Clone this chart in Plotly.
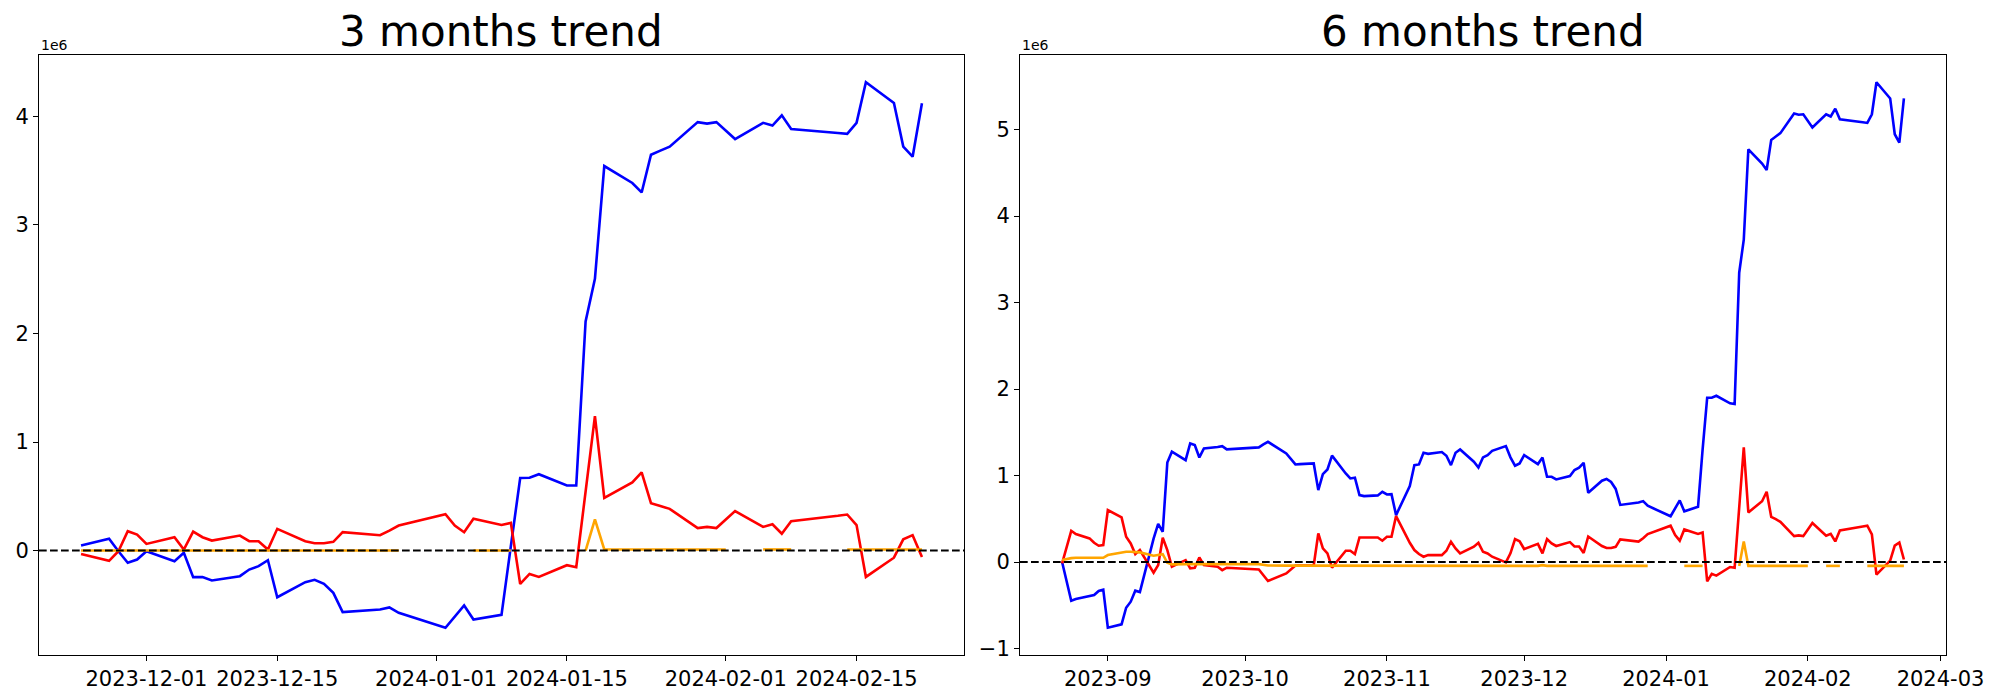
import pandas as pd
import plotly.graph_objects as go

# ---------------- data (values in units of 1e6) ----------------
days_3m = {
    "2023-11": [24, 27, 28, 29, 30],
    "2023-12": [1, 4, 5, 6, 7, 8, 11, 12, 13, 14, 15, 18, 19, 20, 21, 22, 26, 27, 28],
    "2024-01": [2, 3, 4, 5, 8, 9, 10, 11, 12, 15, 16, 17, 18, 19, 22, 23, 24, 25, 26, 29, 30, 31],
    "2024-02": [1, 2, 5, 6, 7, 8, 13, 14, 15, 16, 19, 20, 21, 22],
}
blue_3m = [
    0.046, 0.108, -0.006, -0.113, -0.083,
    -0.006, -0.098, -0.020, -0.245, -0.245, -0.276, -0.236, -0.175, -0.144, -0.089, -0.430, -0.291, -0.270, -0.307, -0.390, -0.567, -0.543, -0.524, -0.574,
    -0.711, -0.610, -0.506, -0.635, -0.592, 0.040, 0.668, 0.671, 0.703, 0.599, 0.599, 2.111, 2.503, 3.542, 3.386, 3.299, 3.646, 3.684, 3.721, 3.947, 3.933, 3.947,
    3.870, 3.791, 3.940, 3.915, 4.009, 3.884, 3.846, 3.839, 3.940, 4.314, 4.123, 3.721, 3.628, 4.120,
]
red_3m = [
    -0.031, -0.095, -0.006, 0.178, 0.147,
    0.061, 0.123, 0.009, 0.175, 0.123, 0.092, 0.138, 0.086, 0.086, 0.009, 0.200, 0.086, 0.067, 0.067, 0.080, 0.169, 0.141, 0.184, 0.230,
    0.334, 0.230, 0.169, 0.294, 0.236, 0.255, -0.308, -0.215, -0.243, -0.135, -0.153, 0.540, 1.239, 0.484, 0.627, 0.720, 0.436, 0.410, 0.384, 0.207, 0.218, 0.207,
    0.285, 0.363, 0.218, 0.242, 0.155, 0.270, 0.320, 0.332, 0.235, -0.243, -0.066, 0.103, 0.142, -0.059,
]
orange_3m = [
    0.0, 0.0, 0.0, 0.0, 0.0,
    0.0, 0.0, 0.0, 0.0, 0.0, 0.0, 0.0, 0.0, 0.0, 0.0, 0.0, 0.0, 0.0, 0.0, 0.0, 0.0, 0.0, 0.0, 0.0,
    None, None, None, 0.0, 0.0, 0.0, None, None, None, None, None, 0.0, 0.287, 0.01, 0.01, 0.01, 0.01, 0.01, 0.01, 0.01, 0.01, 0.01,
    0.01, None, 0.01, 0.01, 0.01, 0.01, None, 0.01, 0.01, 0.01, 0.01, 0.01, 0.01, 0.01,
]

days_6m = {
    "2023-08": [22, 23, 24, 25, 28, 29, 30, 31],
    "2023-09": [1, 4, 5, 6, 7, 8, 11, 12, 13, 14, 15, 18, 19, 20, 21, 22, 25, 26, 27],
    "2023-10": [4, 5, 6, 10, 11, 12, 13, 16, 17, 18, 19, 20, 23, 24, 25, 26, 27, 30, 31],
    "2023-11": [1, 2, 3, 6, 7, 8, 9, 10, 13, 14, 15, 16, 17, 20, 21, 22, 23, 24, 27, 28, 29, 30],
    "2023-12": [1, 4, 5, 6, 7, 8, 11, 12, 13, 14, 15, 18, 19, 20, 21, 22, 26, 27, 28],
    "2024-01": [2, 3, 4, 5, 8, 9, 10, 11, 12, 15, 16, 17, 18, 19, 22, 23, 24, 25, 26, 29, 30, 31],
    "2024-02": [1, 2, 5, 6, 7, 8, 13, 14, 15, 16, 19, 20, 21, 22],
}
blue_6m = [
    0.000, -0.240, -0.448, -0.429, -0.390, -0.382, -0.335, -0.320,
    -0.760, -0.721, -0.529, -0.459, -0.332, -0.348, 0.270, 0.440, 0.350, 1.150, 1.275, 1.178, 1.371, 1.352, 1.209, 1.313, 1.330, 1.340, 1.302,
    1.325, 1.359, 1.390, 1.255, 1.186, 1.128, 1.132, 1.140, 0.831, 1.016, 1.070, 1.230, 1.024, 0.966, 0.974, 0.774, 0.762, 0.770, 0.812,
    0.781, 0.785, 0.542, 0.878, 1.120, 1.128, 1.263, 1.251, 1.271, 1.228, 1.120, 1.263, 1.301, 1.159, 1.093, 1.209, 1.236, 1.286, 1.340, 1.210, 1.113, 1.140,
    1.236, 1.132, 1.209, 0.985, 0.985, 0.955, 0.993, 1.063, 1.090, 1.147, 0.800, 0.940, 0.960, 0.925, 0.845, 0.660, 0.687, 0.704, 0.650,
    0.529, 0.620, 0.712, 0.586, 0.638, 1.300, 1.900, 1.900, 1.922, 1.835, 1.826, 3.345, 3.728, 4.772, 4.607, 4.533, 4.881, 4.920, 4.959, 5.185, 5.172, 5.177,
    5.100, 5.024, 5.177, 5.151, 5.242, 5.120, 5.085, 5.077, 5.177, 5.547, 5.360, 4.946, 4.850, 5.360,
]
red_6m = [
    -0.017, 0.170, 0.361, 0.323, 0.273, 0.222, 0.188, 0.196,
    0.600, 0.515, 0.292, 0.215, 0.091, 0.138, -0.124, -0.036, 0.280, 0.138, -0.055, 0.022, -0.074, -0.066, 0.053, -0.036, -0.055, -0.094, -0.066,
    -0.086, -0.151, -0.220, -0.132, -0.086, -0.040, -0.040, -0.040, 0.330, 0.157, 0.099, -0.065, 0.130, 0.130, 0.092, 0.284, 0.284, 0.284, 0.246,
    0.292, 0.292, 0.531, 0.222, 0.138, 0.092, 0.061, 0.080, 0.080, 0.130, 0.234, 0.157, 0.099, 0.176, 0.222, 0.118, 0.099, 0.061, -0.005, 0.100, 0.265, 0.240,
    0.150, 0.210, 0.100, 0.265, 0.215, 0.185, 0.230, 0.180, 0.180, 0.105, 0.295, 0.185, 0.162, 0.162, 0.175, 0.262, 0.236, 0.275, 0.322,
    0.420, 0.312, 0.247, 0.377, 0.325, 0.342, -0.224, -0.137, -0.158, -0.058, -0.067, 0.650, 1.326, 0.573, 0.703, 0.812, 0.521, 0.495, 0.464, 0.299, 0.308, 0.299,
    0.377, 0.451, 0.304, 0.325, 0.238, 0.364, 0.410, 0.420, 0.320, -0.145, 0.016, 0.190, 0.225, 0.029,
]
orange_6m = [
    0.022, 0.035, 0.045, 0.049, 0.049, 0.049, 0.049, 0.049,
    0.080, 0.111, 0.118, 0.118, 0.118, 0.111, 0.072, 0.080, 0.091, -0.009, -0.028, -0.024, -0.025, -0.025, -0.025, -0.025, -0.025, -0.025, -0.025,
    -0.025, -0.035, -0.040, -0.042, -0.042, -0.044, -0.044, -0.044, -0.044, -0.045, -0.045, -0.045, -0.045, -0.045, -0.045, -0.045, -0.045, -0.045, -0.045,
    -0.045, -0.045, -0.045, -0.045, -0.045, -0.045, -0.045, -0.045, -0.045, -0.045, -0.045, -0.045, -0.045, -0.045, -0.045, -0.045, -0.045, -0.045, -0.045, -0.045, -0.045, -0.045,
    -0.045, -0.045, -0.036, -0.045, -0.045, -0.045, -0.045, -0.045, -0.045, -0.045, -0.045, -0.045, -0.045, -0.045, -0.045, -0.045, -0.045, -0.045, -0.045,
    None, None, None, -0.045, -0.045, -0.045, None, None, None, None, None, -0.045, 0.238, -0.045, -0.045, -0.045, -0.045, -0.045, -0.045, -0.045, -0.045, -0.045,
    -0.045, None, -0.045, -0.045, -0.045, -0.045, None, -0.045, -0.045, -0.045, -0.045, -0.045, -0.045, -0.045,
]

ticks_3m = ["2023-12-01", "2023-12-15", "2024-01-01", "2024-01-15", "2024-02-01", "2024-02-15"]
ticks_6m = ["2023-09-01", "2023-10-01", "2023-11-01", "2023-12-01", "2024-01-01", "2024-02-01", "2024-03-01"]
ticklabels_6m = ["2023-09", "2023-10", "2023-11", "2023-12", "2024-01", "2024-02", "2024-03"]
yticks_3m = [0, 1, 2, 3, 4]
yticks_6m = [-1, 0, 1, 2, 3, 4, 5]
titles = ["3 months trend", "6 months trend"]

# ---------------- build ----------------
def make_dates(days):
    return [f"{m}-{d:02d}" for m, ds in days.items() for d in ds]

dates_3m = make_dates(days_3m)
dates_6m = make_dates(days_6m)

def xrange(dates):
    t = pd.to_datetime(dates)
    span = t.max() - t.min()
    return [str(t.min() - 0.05 * span), str(t.max() + 0.05 * span)]

def yrange(*series):
    vals = [v for s in series for v in s if v is not None]
    lo, hi = min(vals), max(vals)
    pad = 0.05 * (hi - lo)
    return [lo - pad, hi + pad]

def ylabel(v):
    return str(v).replace("-", "\u2212")

W, H = 2000, 700
TOP, BOT = 55, 655
AX = [(39, 964), (1020, 1946)]
ydom = [1 - BOT / H, 1 - TOP / H]

fig = go.Figure()
panels = [
    (dates_3m, blue_3m, red_3m, orange_3m, "x", "y"),
    (dates_6m, blue_6m, red_6m, orange_6m, "x2", "y2"),
]
for dates, b, r, o, xa, ya in panels:
    for vals, col in ((b, "#0000ff"), (r, "#ff0000"), (o, "#ffa500")):
        fig.add_trace(go.Scatter(x=dates, y=vals, mode="lines", xaxis=xa, yaxis=ya,
                                 line=dict(color=col, width=2.6), connectgaps=False,
                                 hoverinfo="skip", showlegend=False))

axis_style = dict(showline=True, mirror=True, linecolor="black", linewidth=1.1,
                  ticks="outside", ticklen=5, tickwidth=1.1, tickcolor="black",
                  showgrid=False, zeroline=False,
                  tickfont=dict(family="DejaVu Sans", size=21, color="black"))

fig.update_layout(
    width=W, height=H, margin=dict(l=0, r=0, t=0, b=0, pad=0, autoexpand=False),
    paper_bgcolor="white", plot_bgcolor="white", showlegend=False,
    font=dict(family="DejaVu Sans", color="black"),
    xaxis=dict(domain=[AX[0][0] / W, AX[0][1] / W], type="date", range=xrange(dates_3m),
               tickvals=ticks_3m, ticktext=ticks_3m, anchor="y", **axis_style),
    yaxis=dict(domain=ydom, range=yrange(blue_3m, red_3m, orange_3m), anchor="x",
               tickvals=yticks_3m, ticktext=[ylabel(v) for v in yticks_3m], **axis_style),
    xaxis2=dict(domain=[AX[1][0] / W, AX[1][1] / W], type="date", range=xrange(dates_6m),
                tickvals=ticks_6m, ticktext=ticklabels_6m, anchor="y2", **axis_style),
    yaxis2=dict(domain=ydom, range=yrange(blue_6m, red_6m, orange_6m), anchor="x2",
                tickvals=yticks_6m, ticktext=[ylabel(v) for v in yticks_6m], **axis_style),
)

for i, (xa, ya) in enumerate((("x", "y"), ("x2", "y2"))):
    fig.add_shape(type="line", xref=f"{xa} domain", x0=0, x1=1, yref=ya, y0=0, y1=0,
                  line=dict(color="black", width=2.1, dash="7.7px,3.3px"), layer="above")
    left, right = AX[i]
    fig.add_annotation(text=titles[i], xref="paper", yref="paper",
                       x=(left + right) / 2 / W, y=1 - 58 / H, xanchor="center", yanchor="bottom",
                       showarrow=False, font=dict(family="DejaVu Sans", size=42, color="black"))
    fig.add_annotation(text="1e6", xref="paper", yref="paper",
                       x=left / W, y=1 - 55 / H, xanchor="left", yanchor="bottom",
                       showarrow=False, font=dict(family="DejaVu Sans", size=14, color="black"))

fig.write_html("out.html", config={"displayModeBar": False},
               post_script="document.body.style.margin='0';document.body.style.overflow='hidden';")
